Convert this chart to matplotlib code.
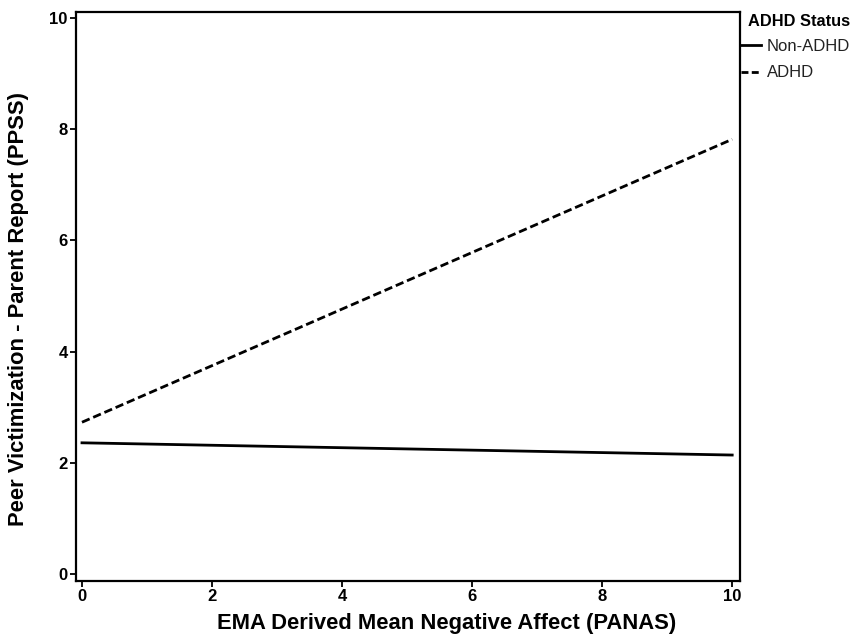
import matplotlib
matplotlib.use("Agg")
import matplotlib.pyplot as plt
from matplotlib.lines import Line2D

plt.rcParams['font.family'] = ['Liberation Sans', 'DejaVu Sans']

x_vals = [0, 10]
non_adhd = [2.36, 2.14]
adhd = [2.73, 7.82]
series_names = ["Non-ADHD", "ADHD"]
legend_title = "ADHD Status"
ticks = [0, 2, 4, 6, 8, 10]

fig = plt.figure(figsize=(8.52, 6.41), dpi=100)
ax = fig.add_axes([76/852, 1-581/641, (740-76)/852, (581-12)/641])

ax.plot(x_vals, non_adhd, color='black', lw=2.0, linestyle='-', label=series_names[0])
ax.plot(x_vals, adhd, color='black', lw=2.0, linestyle=(0, (3, 1.4)), label=series_names[1])

ax.set_xlim(-0.092, 10.12)
ax.set_ylim(-0.126, 10.11)
ax.set_xticks(ticks)
ax.set_yticks(ticks)
ax.set_xticklabels([str(t) for t in ticks], fontweight='bold', fontsize=12)
ax.set_yticklabels([str(t) for t in ticks], fontweight='bold', fontsize=12)
ax.tick_params(direction='out', length=4.5, width=1.3, color='black', pad=1.5)
for s in ax.spines.values():
    s.set_linewidth(1.6)

fig.text(447/852, 1-624/641, "EMA Derived Mean Negative Affect (PANAS)", fontsize=15.8,
         fontweight='bold', ha='center', va='center')
fig.text(19/852, 1-309/641, "Peer Victimization - Parent Report (PPSS)", fontsize=15.8,
         fontweight='bold', ha='center', va='center', rotation=90)

fig.text(748/852, 1-21.5/641, legend_title, fontsize=11.8, fontweight='bold',
         ha='left', va='center')
handles = [Line2D([0], [0], color='black', lw=2.0, linestyle='-'),
           Line2D([0], [0], color='black', lw=2.0, linestyle=(0, (2.5, 1.2)))]
leg = fig.legend(handles, series_names, loc='upper left',
                 bbox_to_anchor=(741/852, 1-39/641), frameon=False, fontsize=12,
                 handlelength=1.2, handletextpad=0.35, borderaxespad=0, borderpad=0.0,
                 labelspacing=0.68)
for t in leg.get_texts():
    t.set_color('#222222')

fig.savefig("out.png", dpi=100, facecolor='white')
